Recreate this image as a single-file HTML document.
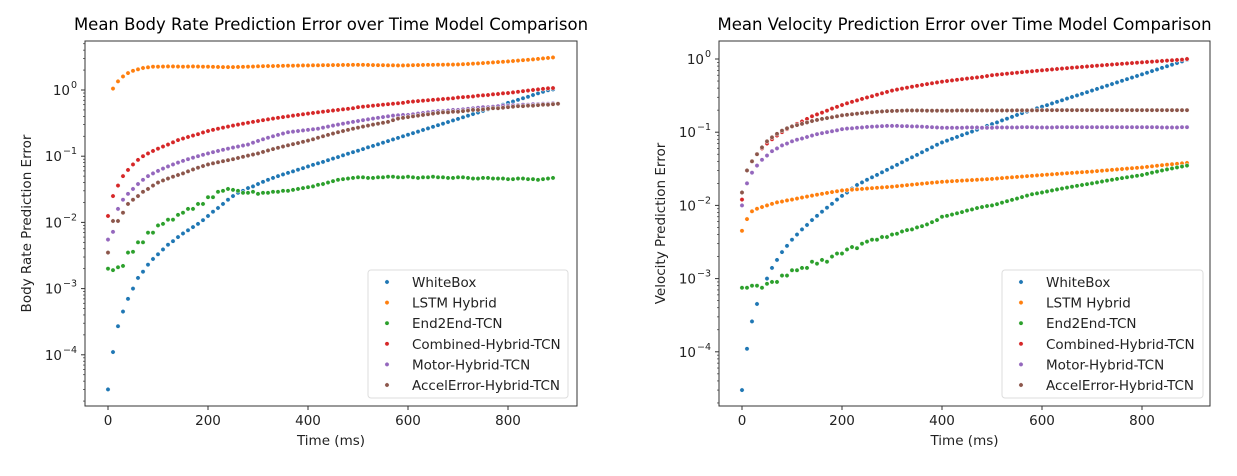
<!DOCTYPE html>
<html><head><meta charset="utf-8">
<style>
html,body{margin:0;padding:0;background:#fff;}
svg{display:block;font-family:"DejaVu Sans","Liberation Sans",sans-serif;}
</style></head>
<body>
<svg id="chart" width="1237" height="476" viewBox="0 0 1237 476" xmlns="http://www.w3.org/2000/svg"></svg>
<script>
const seriesNames = ["WhiteBox","LSTM Hybrid","End2End-TCN","Combined-Hybrid-TCN","Motor-Hybrid-TCN","AccelError-Hybrid-TCN"];
const seriesColors = ["#1f77b4","#ff7f0e","#2ca02c","#d62728","#9467bd","#8c564b"];
const timeStepMs = 10;
const xTicks = [0,200,400,600,800];
const yTickExps = [-4,-3,-2,-1,0];

// Body rate (left) series, one value per 10 ms from 0 to 890
const brWhiteBox = [3e-5,1.1e-4,2.7e-4,4.5e-4,7e-4,1e-3,1.45e-3,1.8e-3,2.3e-3,2.8e-3,3.3e-3,3.9e-3,4.6e-3,5.2e-3,6e-3,6.8e-3,7.6e-3,8.5e-3,9.5e-3,0.0108,0.0125,0.0145,0.0165,0.019,0.022,0.025,0.028,0.03,0.033,0.035,0.038,0.041,0.044,0.047,0.05,0.053,0.056,0.059,0.0625,0.066,0.07,0.074,0.078,0.082,0.087,0.092,0.097,0.103,0.109,0.115,0.121,0.128,0.136,0.143,0.151,0.16,0.169,0.179,0.189,0.2,0.211,0.223,0.235,0.249,0.263,0.278,0.294,0.31,0.328,0.347,0.366,0.387,0.409,0.433,0.457,0.483,0.51,0.54,0.57,0.6,0.64,0.67,0.71,0.75,0.79,0.84,0.89,0.94,0.99,1.02];
const brLSTM = [null,1.05,1.35,1.6,1.8,1.95,2.05,2.15,2.2,2.25,2.25,2.26,2.27,2.27,2.26,2.25,2.26,2.27,2.26,2.25,2.25,2.24,2.23,2.22,2.22,2.22,2.23,2.24,2.25,2.26,2.28,2.29,2.3,2.3,2.31,2.32,2.33,2.33,2.34,2.35,2.35,2.36,2.36,2.37,2.37,2.38,2.38,2.39,2.39,2.4,2.4,2.4,2.39,2.38,2.37,2.37,2.36,2.36,2.35,2.35,2.36,2.37,2.38,2.39,2.4,2.4,2.41,2.41,2.42,2.42,2.43,2.45,2.47,2.5,2.52,2.55,2.58,2.61,2.64,2.67,2.7,2.74,2.78,2.82,2.86,2.9,2.95,3.0,3.05,3.1];
const brEnd2End = [0.002,0.0019,0.0021,0.0022,0.0035,0.0036,0.005,0.005,0.007,0.007,0.009,0.0095,0.011,0.011,0.013,0.014,0.016,0.016,0.019,0.019,0.024,0.024,0.029,0.03,0.032,0.031,0.03,0.028,0.028,0.029,0.027,0.028,0.028,0.029,0.029,0.03,0.03,0.031,0.032,0.033,0.034,0.035,0.037,0.038,0.04,0.042,0.044,0.045,0.046,0.047,0.048,0.048,0.047,0.047,0.048,0.048,0.049,0.049,0.048,0.048,0.049,0.048,0.047,0.048,0.048,0.049,0.048,0.048,0.047,0.047,0.048,0.048,0.047,0.046,0.046,0.047,0.047,0.046,0.046,0.046,0.045,0.045,0.046,0.046,0.045,0.045,0.044,0.045,0.046,0.047];
const brCombined = [0.0125,0.025,0.036,0.05,0.062,0.075,0.088,0.1,0.11,0.12,0.13,0.14,0.15,0.162,0.175,0.185,0.195,0.205,0.215,0.228,0.24,0.25,0.26,0.27,0.28,0.29,0.3,0.31,0.32,0.33,0.34,0.35,0.36,0.37,0.38,0.39,0.4,0.41,0.42,0.43,0.44,0.45,0.46,0.47,0.48,0.49,0.5,0.51,0.52,0.53,0.55,0.56,0.57,0.58,0.59,0.6,0.61,0.62,0.63,0.64,0.66,0.67,0.68,0.69,0.7,0.71,0.72,0.73,0.74,0.75,0.77,0.78,0.79,0.8,0.82,0.83,0.84,0.86,0.87,0.89,0.9,0.92,0.94,0.96,0.98,1.0,1.02,1.04,1.06,1.07];
const brMotor = [0.0055,0.0072,0.016,0.022,0.027,0.032,0.038,0.044,0.05,0.055,0.06,0.065,0.07,0.075,0.08,0.085,0.09,0.095,0.1,0.105,0.11,0.115,0.12,0.125,0.13,0.135,0.14,0.145,0.15,0.16,0.17,0.18,0.19,0.2,0.21,0.22,0.23,0.235,0.24,0.245,0.25,0.255,0.26,0.27,0.28,0.29,0.3,0.31,0.32,0.33,0.34,0.35,0.36,0.37,0.38,0.39,0.4,0.41,0.415,0.42,0.42,0.43,0.44,0.45,0.46,0.47,0.48,0.48,0.49,0.5,0.5,0.51,0.52,0.53,0.54,0.55,0.55,0.56,0.57,0.58,0.58,0.59,0.59,0.6,0.6,0.61,0.61,0.62,0.62,0.63];
const brAccel = [0.0035,0.0105,0.0105,0.014,0.019,0.022,0.025,0.029,0.032,0.036,0.04,0.043,0.046,0.049,0.052,0.055,0.059,0.063,0.067,0.071,0.075,0.078,0.081,0.084,0.087,0.09,0.094,0.098,0.102,0.106,0.11,0.116,0.122,0.128,0.134,0.14,0.146,0.152,0.158,0.165,0.172,0.18,0.19,0.2,0.21,0.22,0.23,0.24,0.25,0.26,0.27,0.28,0.29,0.3,0.31,0.32,0.33,0.35,0.37,0.38,0.39,0.4,0.41,0.42,0.43,0.44,0.45,0.46,0.46,0.47,0.47,0.48,0.49,0.5,0.5,0.51,0.52,0.53,0.53,0.54,0.55,0.56,0.57,0.57,0.58,0.58,0.59,0.6,0.6,0.61,0.62];

// Velocity (right) series
const velWhiteBox = [3e-5,1.1e-4,2.6e-4,4.5e-4,7.5e-4,1e-3,1.4e-3,1.8e-3,2.3e-3,2.8e-3,3.4e-3,4e-3,4.7e-3,5.4e-3,6.3e-3,7.2e-3,8.2e-3,9.3e-3,0.0105,0.012,0.0135,0.015,0.017,0.019,0.0206,0.0224,0.0242,0.0261,0.0283,0.0306,0.0331,0.0358,0.0388,0.042,0.0454,0.049,0.0532,0.0575,0.0622,0.0674,0.0724,0.0767,0.0813,0.0861,0.0912,0.0966,0.102,0.108,0.115,0.122,0.129,0.136,0.145,0.153,0.162,0.172,0.182,0.191,0.201,0.212,0.223,0.234,0.247,0.26,0.273,0.288,0.303,0.318,0.335,0.352,0.371,0.39,0.411,0.432,0.455,0.479,0.504,0.53,0.557,0.586,0.617,0.649,0.684,0.719,0.757,0.796,0.837,0.881,0.927,0.977];
const velLSTM = [0.0045,0.0065,0.0083,0.009,0.0095,0.01,0.0105,0.011,0.0113,0.0117,0.012,0.0124,0.0128,0.0132,0.0136,0.014,0.0144,0.0148,0.0152,0.0156,0.016,0.0162,0.0164,0.0166,0.0168,0.017,0.0172,0.0174,0.0176,0.0178,0.018,0.0183,0.0186,0.0189,0.0192,0.0195,0.0198,0.0201,0.0204,0.0207,0.021,0.0212,0.0214,0.0216,0.0218,0.022,0.0222,0.0224,0.0226,0.0228,0.023,0.0233,0.0236,0.0239,0.0242,0.0245,0.0248,0.0251,0.0254,0.0257,0.026,0.0263,0.0266,0.0269,0.0272,0.0275,0.0278,0.0281,0.0284,0.0287,0.029,0.0294,0.0298,0.0302,0.0306,0.031,0.0314,0.0318,0.0322,0.0326,0.033,0.0336,0.0342,0.0348,0.0354,0.036,0.0365,0.037,0.0375,0.038];
const velEnd2End = [0.00075,0.00075,0.0008,0.0008,0.00075,0.00085,0.0009,0.0009,0.0011,0.0011,0.0013,0.0013,0.0014,0.0014,0.0017,0.0016,0.0018,0.0017,0.002,0.0022,0.0022,0.0025,0.0027,0.0026,0.003,0.0032,0.0034,0.0034,0.0037,0.0037,0.004,0.0041,0.0044,0.0046,0.0047,0.005,0.0052,0.0055,0.0059,0.0063,0.007,0.0072,0.0075,0.0078,0.0081,0.0085,0.0088,0.0092,0.0095,0.0098,0.01,0.0104,0.0109,0.0114,0.0119,0.0124,0.013,0.0136,0.0142,0.0146,0.015,0.0155,0.016,0.0165,0.017,0.0175,0.018,0.0185,0.019,0.0195,0.02,0.0206,0.0212,0.0218,0.0224,0.023,0.0236,0.0242,0.0248,0.0254,0.026,0.027,0.028,0.029,0.03,0.031,0.032,0.033,0.034,0.035];
const velCombined = [0.012,0.03,0.04,0.05,0.06,0.07,0.08,0.09,0.1,0.11,0.12,0.13,0.14,0.152,0.165,0.175,0.185,0.197,0.21,0.222,0.235,0.248,0.26,0.272,0.285,0.298,0.31,0.325,0.34,0.355,0.37,0.382,0.394,0.406,0.418,0.43,0.442,0.454,0.466,0.478,0.49,0.5,0.51,0.52,0.53,0.54,0.55,0.56,0.57,0.585,0.6,0.61,0.62,0.63,0.64,0.65,0.66,0.67,0.68,0.69,0.7,0.71,0.72,0.73,0.74,0.75,0.76,0.77,0.78,0.79,0.8,0.81,0.82,0.83,0.84,0.85,0.86,0.87,0.88,0.89,0.9,0.91,0.92,0.93,0.94,0.95,0.96,0.97,0.98,1.0];
const velMotor = [0.01,0.02,0.028,0.035,0.042,0.048,0.055,0.06,0.066,0.07,0.075,0.079,0.082,0.086,0.09,0.094,0.097,0.1,0.103,0.106,0.11,0.112,0.113,0.115,0.116,0.118,0.119,0.12,0.121,0.122,0.122,0.122,0.121,0.121,0.12,0.12,0.119,0.118,0.117,0.116,0.115,0.115,0.115,0.115,0.115,0.116,0.116,0.116,0.115,0.115,0.115,0.116,0.116,0.116,0.116,0.116,0.117,0.117,0.117,0.116,0.116,0.116,0.116,0.117,0.117,0.117,0.117,0.117,0.117,0.117,0.117,0.117,0.117,0.117,0.117,0.117,0.117,0.117,0.117,0.117,0.117,0.117,0.117,0.117,0.116,0.116,0.116,0.116,0.117,0.117];
const velAccel = [0.015,0.03,0.04,0.05,0.062,0.075,0.085,0.095,0.105,0.113,0.12,0.125,0.13,0.136,0.142,0.147,0.152,0.156,0.16,0.165,0.17,0.173,0.176,0.179,0.182,0.185,0.187,0.19,0.192,0.194,0.195,0.196,0.197,0.198,0.198,0.198,0.198,0.197,0.197,0.197,0.197,0.197,0.197,0.198,0.198,0.198,0.198,0.198,0.198,0.198,0.198,0.198,0.198,0.198,0.198,0.199,0.199,0.199,0.199,0.199,0.2,0.2,0.2,0.2,0.2,0.2,0.2,0.2,0.2,0.2,0.2,0.2,0.2,0.2,0.2,0.2,0.2,0.2,0.2,0.2,0.2,0.2,0.2,0.2,0.2,0.2,0.2,0.2,0.2,0.2];

const NS = "http://www.w3.org/2000/svg";
const svg = document.getElementById("chart");
function mk(tag, attrs, parent){const e=document.createElementNS(NS,tag);for(const k in attrs)e.setAttribute(k,attrs[k]);(parent||svg).appendChild(e);return e;}

function drawPanel(p){
  const g = mk("g",{});
  
  
  const xS = t => p.x0 + t*p.xScale;
  const yS = v => p.yZero - Math.log10(v)*p.yDecade;
  const ti = mk("text",{x:(p.left+p.right)/2,y:30,"text-anchor":"middle","font-size":"16.5",fill:"#000"},g);
  ti.textContent = p.title;
  
  
  xTicks.forEach(t=>{
    const x=xS(t);
    mk("line",{x1:x,x2:x,y1:p.bottom,y2:p.bottom+4,stroke:"#333","stroke-width":1},g);
    const lb=mk("text",{x:x,y:p.bottom+19,"text-anchor":"middle","font-size":"13.5",fill:"#222"},g);
    lb.textContent=t;
    
    
  });
  const xl=mk("text",{x:(p.left+p.right)/2,y:p.bottom+39,"text-anchor":"middle","font-size":"13.5",fill:"#222"},g);
  xl.textContent="Time (ms)";
  
  
  for(let e=-6;e<=1;e++){
    for(let m=1;m<10;m++){
      const y=yS(m*Math.pow(10,e));
      if(y<p.top||y>p.bottom) continue;
      mk("line",{x1:p.left-(m===1?4:2),x2:p.left,y1:y,y2:y,stroke:"#333","stroke-width":m===1?1:0.7},g);
    }
  }
  yTickExps.forEach(e=>{
    const y=yS(Math.pow(10,e));
    const lb=mk("text",{x:p.left-(e===0?15:23),y:y+5,"text-anchor":"end","font-size":"13.5",fill:"#222"},g);
    lb.textContent="10";
    
    
    const sp=mk("text",{x:p.left-(e===0?14:22),y:y-2,"text-anchor":"start","font-size":"9.5",fill:"#222"},g);
    sp.textContent=e===0?"0":"\u2212"+(-e);
  });
  const yl=mk("text",{x:0,y:0,"text-anchor":"middle","font-size":"13.5",fill:"#222",transform:`translate(${p.yTitleX},${(p.top+p.bottom)/2}) rotate(-90)`},g);
  yl.textContent=p.yTitle;
  
  
  p.series.forEach((arr,si)=>{
    const sg=mk("g",{},g);
    
    
    arr.forEach((v,i)=>{
      if(v==null||v<=0) return;
      mk("circle",{cx:xS(i*timeStepMs),cy:yS(v),r:2.2,fill:seriesColors[si],stroke:"#fff","stroke-width":0.5},sg);
    });
  });
  const fr=mk("rect",{x:p.left,y:p.top,width:p.right-p.left,height:p.bottom-p.top,fill:"none",stroke:"#333","stroke-width":1},g);
  
  
  const lg=mk("g",{},g);
  
  
  mk("rect",{x:p.legX,y:270,width:p.legW,height:128,rx:3,fill:"#fff","fill-opacity":0.85,stroke:"#ddd","stroke-width":1},lg);
  seriesNames.forEach((n,i)=>{
    const y=282+i*20.6;
    const it=mk("g",{},lg);
    
    
    mk("circle",{cx:p.legX+19,cy:y,r:2.2,fill:seriesColors[i],stroke:"#fff","stroke-width":0.5},it);
    const tx=mk("text",{x:p.legX+44,y:y+5,"font-size":"13.5",fill:"#222"},it);
    tx.textContent=n;
  });
}

drawPanel({name:"body-rate-panel",title:"Mean Body Rate Prediction Error over Time Model Comparison",yTitle:"Body Rate Prediction Error",
  left:85,right:577,top:41,bottom:406,x0:108,xScale:0.5,yZero:90,yDecade:66.2,yTitleX:31,legX:368,legW:200,
  series:[brWhiteBox,brLSTM,brEnd2End,brCombined,brMotor,brAccel]});
drawPanel({name:"velocity-panel",title:"Mean Velocity Prediction Error over Time Model Comparison",yTitle:"Velocity Prediction Error",
  left:719,right:1210,top:41,bottom:406,x0:742,xScale:0.5,yZero:59,yDecade:73.2,yTitleX:665,legX:1002,legW:201,
  series:[velWhiteBox,velLSTM,velEnd2End,velCombined,velMotor,velAccel]});
</script>
</body></html>
